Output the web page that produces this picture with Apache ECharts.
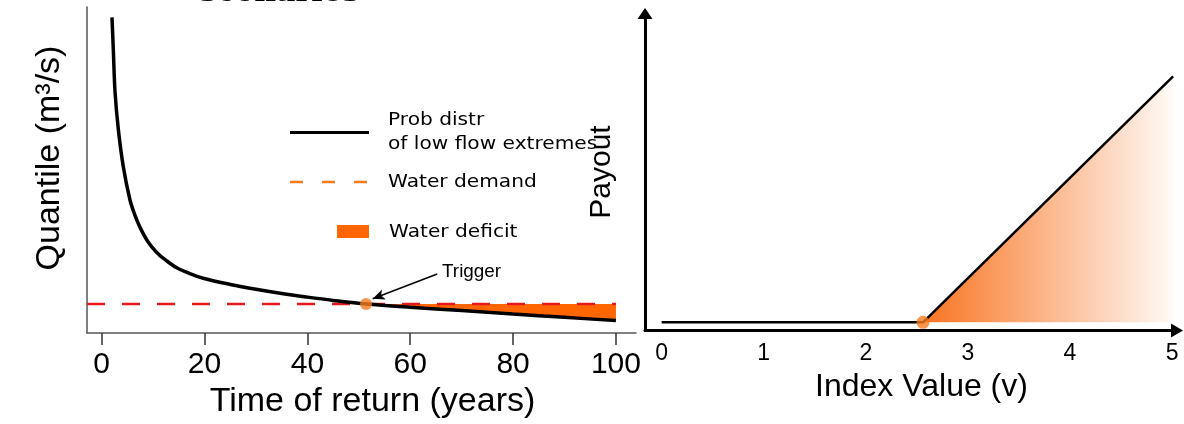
<!DOCTYPE html>
<html>
<head>
<meta charset="utf-8">
<title>Low flow trigger and payout</title>
<script src="https://cdn.jsdelivr.net/npm/echarts@6.0.0/dist/echarts.min.js"></script>
<style>
html, body { margin: 0; padding: 0; background: #fff; }
#main { width: 1184px; height: 424px; }
</style>
</head>
<body>
<div id="main"></div>
<script>
// left panel: quantile of low flow extremes vs return period
var returnYears = [2.0, 2.26, 2.59, 3.23, 4.2, 5.5, 6.4, 7.45, 9, 10.7, 12.5, 14.6, 17, 19.75, 25, 30, 35, 40, 45, 51.4, 60, 70, 80, 90, 100];
var quantile    = [96.8, 86.8, 74.0, 62.5, 51.0, 40.8, 36.4, 32.4, 28.0, 24.7, 22.3, 20.0, 18.3, 16.8, 14.9, 13.4, 12.1, 11.0, 10.0, 8.9, 7.9, 6.9, 5.8, 4.8, 3.8];
var waterDemand = 8.9;
var triggerYear = 51.4;
var returnTicks = [0, 20, 40, 60, 80, 100];
var triggerLabelAt = [65.25, 18.1];
var triggerArrowTip = [52.7, 10.5];

// right panel: payout vs index value
var indexValue = [0, 2.56, 5.01];
var payout     = [0, 0, 2.44];
var indexTicks = [0, 1, 2, 3, 4, 5];

var leftXMin = -2.86, leftXMax = 103.9;

var curveData = returnYears.map(function (t, i) { return [t, quantile[i]]; });
var deficitData = curveData.filter(function (p) { return p[0] >= triggerYear; });
var payoutData = indexValue.map(function (v, i) { return [v, payout[i]]; });

var chart = echarts.init(document.getElementById('main'));

var font = 'Liberation Sans';

function label(text, x, y) {
  return {
    type: 'text', x: x, y: y, scaleX: 1.12,
    style: { text: text, fontFamily: 'DejaVu Sans', fontSize: 18, fill: '#000',
      align: 'left', textAlign: 'left', verticalAlign: 'middle', textVerticalAlign: 'middle' }
  };
}

var option = {
  animation: false,
  backgroundColor: '#fff',
  grid: [
    { left: 87, top: 7, width: 549, height: 326, outerBoundsMode: 'none' },
    { left: 645, top: 13.5, width: 532, height: 317, outerBoundsMode: 'none' }
  ],
  xAxis: [
    {
      gridIndex: 0, type: 'value', min: leftXMin, max: leftXMax,
      name: 'Time of return (years)', nameLocation: 'middle', nameGap: 52,
      nameTextStyle: { fontFamily: font, fontSize: 34, color: '#000', padding: [0, 0, 0, 22] },
      axisLine: { show: true, onZero: false, lineStyle: { color: '#555', width: 1.5 } },
      axisTick: { show: true, length: 12, customValues: returnTicks, lineStyle: { color: '#333', width: 1.5 } },
      axisLabel: { customValues: returnTicks, margin: 17, fontFamily: font, fontSize: 30, color: '#000' },
      splitLine: { show: false }
    },
    {
      gridIndex: 1, type: 'value', min: -0.163, max: 5.048,
      name: 'Index Value (v)', nameLocation: 'middle', nameGap: 41,
      nameTextStyle: { fontFamily: font, fontSize: 32, color: '#000', padding: [0, 0, 0, 21] },
      axisLine: { show: true, onZero: false, symbol: ['none', 'triangle'], symbolSize: [14, 12],
        lineStyle: { color: '#000', width: 3 } },
      axisTick: { show: false },
      axisLabel: { customValues: indexTicks, margin: 12, fontFamily: font, fontSize: 23, color: '#000' },
      splitLine: { show: false }
    }
  ],
  yAxis: [
    {
      gridIndex: 0, type: 'value', min: 0, max: 100,
      name: 'Quantile (m³/s)', nameLocation: 'middle', nameGap: 20, nameRotate: 90,
      nameTextStyle: { fontFamily: font, fontSize: 34, color: '#000', padding: [0, 0, 0, 24] },
      axisLine: { show: true, onZero: false, lineStyle: { color: '#555', width: 1.5 } },
      axisTick: { show: false },
      axisLabel: { show: false },
      splitLine: { show: false }
    },
    {
      gridIndex: 1, type: 'value', min: -0.081, max: 3.063,
      name: 'Payout', nameLocation: 'middle', nameGap: 28, nameRotate: 90,
      nameTextStyle: { fontFamily: font, fontSize: 30, color: '#000' },
      axisLine: { show: true, onZero: false, symbol: ['none', 'triangle'], symbolSize: [15, 11],
        lineStyle: { color: '#000', width: 3 } },
      axisTick: { show: false },
      axisLabel: { show: false },
      splitLine: { show: false }
    }
  ],
  series: [
    {
      name: 'Water deficit',
      type: 'custom', coordinateSystem: 'cartesian2d', xAxisIndex: 0, yAxisIndex: 0,
      z: 1,
      data: [[triggerYear, waterDemand]],
      renderItem: function (params, api) {
        if (params.dataIndex !== 0) return;
        var pts = deficitData.map(function (p) { return api.coord(p); });
        pts.push(api.coord([deficitData[deficitData.length - 1][0], waterDemand]));
        pts.push(api.coord([deficitData[0][0], waterDemand]));
        return { type: 'polygon', shape: { points: pts }, style: { fill: '#ff6600' } };
      }
    },
    {
      name: 'Water demand',
      type: 'line', xAxisIndex: 0, yAxisIndex: 0, z: 2,
      data: [[leftXMin, waterDemand], [100, waterDemand]],
      symbol: 'none',
      lineStyle: { color: '#e8191c', width: 2.5, type: [18, 17] }
    },
    {
      name: 'Prob distr of low flow extremes',
      type: 'line', xAxisIndex: 0, yAxisIndex: 0, z: 3,
      data: curveData,
      smooth: 0.35,
      symbol: 'none',
      lineStyle: { color: '#000', width: 3.5 }
    },
    {
      name: 'Trigger',
      type: 'scatter', xAxisIndex: 0, yAxisIndex: 0, z: 4,
      data: [[triggerYear, waterDemand]],
      symbolSize: 12,
      itemStyle: { color: '#f77b20' },
      markLine: {
        silent: true,
        symbol: ['none', 'arrow'], symbolSize: [8, 12],
        lineStyle: { color: '#000', width: 1.5, type: 'solid' },
        label: { show: false },
        data: [[{ coord: triggerLabelAt }, { coord: triggerArrowTip }]]
      }
    },
    {
      name: 'Payout fill',
      type: 'line', xAxisIndex: 1, yAxisIndex: 1, z: 1,
      data: payoutData.slice(1),
      symbol: 'none',
      lineStyle: { width: 0 },
      areaStyle: {
        opacity: 1,
        color: new echarts.graphic.LinearGradient(0, 0, 1, 0, [
          { offset: 0, color: '#f87420' },
          { offset: 1, color: '#fffaf7' }
        ])
      }
    },
    {
      name: 'Payout',
      type: 'line', xAxisIndex: 1, yAxisIndex: 1, z: 3,
      data: payoutData,
      symbol: 'none',
      lineStyle: { color: '#000', width: 2.5 }
    },
    {
      name: 'Strike',
      type: 'scatter', xAxisIndex: 1, yAxisIndex: 1, z: 4,
      data: [payoutData[1]],
      symbolSize: 13,
      itemStyle: { color: '#f97a1f' }
    }
  ],
  graphic: [
    // cut-off title above the left panel
    { type: 'text', x: 200, y: -6.5,
      style: { text: 'scenarios', fontFamily: 'DejaVu Serif', fontWeight: 'bold', fontSize: 30, fill: '#000',
        align: 'left', textAlign: 'left', verticalAlign: 'middle', textVerticalAlign: 'middle' } },
    // legend
    { type: 'line', shape: { x1: 290, y1: 132.5, x2: 369, y2: 132.5 }, style: { stroke: '#000', lineWidth: 3 } },
    label('Prob distr', 388, 120),
    label('of low flow extremes', 388, 144.5),
    { type: 'line', shape: { x1: 290, y1: 182, x2: 369, y2: 182 },
      style: { stroke: '#f97a1f', lineWidth: 2.5, lineDash: [13, 19] } },
    label('Water demand', 388, 182),
    { type: 'rect', shape: { x: 337, y: 225, width: 32, height: 13 }, style: { fill: '#ff6600' } },
    label('Water deficit', 389, 232),
    // trigger annotation
    { type: 'text', x: 442, y: 272, scaleX: 1.05,
      style: { text: 'Trigger', fontFamily: font, fontSize: 18, fill: '#000',
        align: 'left', textAlign: 'left', verticalAlign: 'middle', textVerticalAlign: 'middle' } }
  ]
};

chart.setOption(option);
</script>
</body>
</html>
